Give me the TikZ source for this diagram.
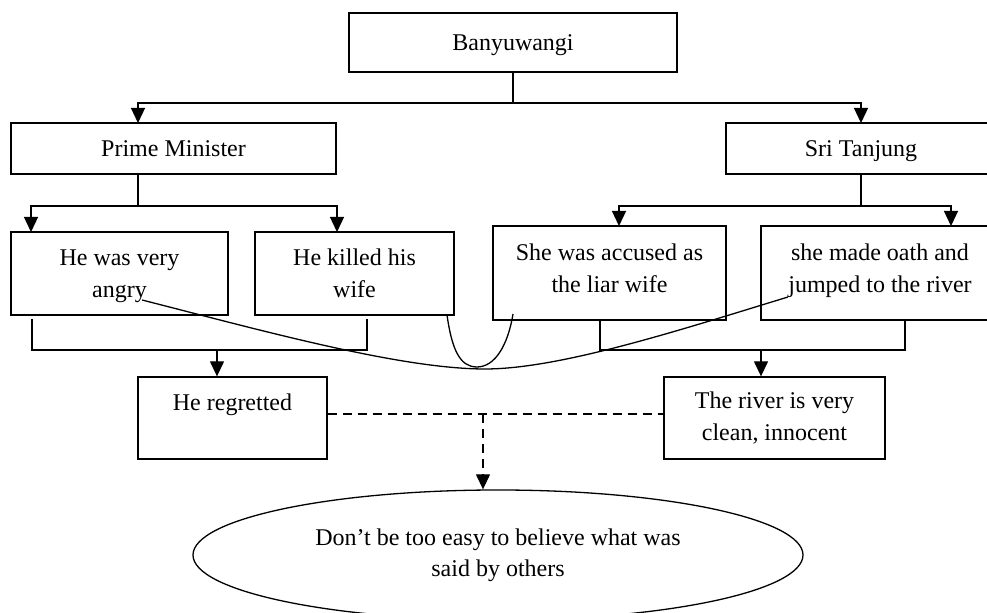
\documentclass[tikz,border=0pt]{standalone}
\usepackage{fontspec}
\setmainfont{Liberation Serif}
\usetikzlibrary{arrows.meta,positioning,shapes.geometric}
\tikzset{
  sbox/.style ={rectangle, draw=black, line width=0.65pt, inner sep=0pt,
                align=center, font=\fontsize{12}{16}\selectfont},
  bsize/.style 2 args={minimum width=#1, minimum height=#2},
  oneline/.style={text height=8pt, text depth=0pt},
  soval/.style={ellipse, draw=black, line width=0.65pt, inner sep=0pt,
                align=center, font=\fontsize{12}{15.5}\selectfont},
  sline/.style={line width=0.65pt, black},
  sarr/.style ={sline, -{Triangle[length=7.5pt, width=7pt]}},
  sdash/.style={sline, dash pattern=on 4.5pt off 3pt},
  sdarr/.style={sdash, -{Triangle[length=7.5pt, width=7pt]}},
  scurve/.style={line width=0.65pt, black},
}

\begin{document}
\begin{tikzpicture}[x=0.5pt, y=-0.5pt]
  \useasboundingbox (0,0) rectangle (987,613);
  % the story boxes
  \node[sbox, oneline, bsize={164pt}{29.5pt}] (banyu) at (513,42.5) {Banyuwangi};
  \node[sbox, oneline, bsize={162.5pt}{25.5pt}] (pm) at (173.5,148.5) {Prime Minister};
  \node[sbox, oneline, bsize={135pt}{25.5pt}] (st) at (861,148.5) {Sri Tanjung};
  \node[sbox, bsize={108.5pt}{41.5pt}, text depth=0pt] (angry) at (119.5,273.5) {He was very\\angry};
  \node[sbox, bsize={99.5pt}{41.5pt}] (killed) at (354.5,273.5) {He killed his\\wife};
  \node[sbox, bsize={116.5pt}{47pt}, text depth=5pt] (accused) at (609.5,273) {She was accused as\\the liar wife};
  \node[sbox, bsize={119pt}{47pt}, text depth=5pt] (oath) at (880,273) {she made oath and\\jumped to the river};
  \node[sbox, bsize={94.5pt}{41pt}, text height=8pt, text depth=15pt] (regret) at (232.5,418) {He regretted};
  \node[sbox, bsize={110.5pt}{41pt}] (river) at (774.5,418) {The river is very\\clean, innocent};
  \node[soval, bsize={305pt}{65pt}] (moral) at (498,555)
    {Don’t be too easy to believe what was\\said by others};

  % joints of the connectors
  \coordinate (banyu-split) at (513,103);
  \coordinate (pm-in) at (138,123);  \coordinate (st-in) at (861,123);
  \coordinate (pm-split) at (138,206); \coordinate (st-split) at (861,206);
  \coordinate (angry-in) at (31,232);   \coordinate (killed-in) at (337,232);
  \coordinate (accused-in) at (619,226); \coordinate (oath-in) at (951,226);
  \coordinate (angry-out) at (32,319);   \coordinate (killed-out) at (367,319);
  \coordinate (accused-out) at (600,320); \coordinate (oath-out) at (905,320);
  \coordinate (left-join) at (217,350);  \coordinate (right-join) at (761,350);
  \coordinate (moral-split) at (483,414);

  \draw[sline] (banyu) -- (banyu-split);
  \draw[sarr] (banyu-split) -| (pm-in);
  \draw[sarr] (banyu-split) -| (st-in);

  \draw[sline] (pm.south -| pm-split) -- (pm-split);
  \draw[sarr] (pm-split) -| (angry-in);
  \draw[sarr] (pm-split) -| (killed-in);
  \draw[sline] (st) -- (st-split);
  \draw[sarr] (st-split) -| (accused-in);
  \draw[sarr] (st-split) -| (oath-in);

  \draw[sline] (angry-out) |- (left-join) -| (killed-out);
  \draw[sarr] (left-join) -- (regret.north -| left-join);
  \draw[sline] (accused-out) |- (right-join) -| (oath-out);
  \draw[sarr] (right-join) -- (river.north -| right-join);

  \draw[sdash] (regret.east |- moral-split) -- (river.west |- moral-split);
  \draw[sdarr] (moral-split) -- (moral.north -| moral-split);

  % the two crossing curves
  \coordinate (c1-start) at (142,300); \coordinate (c1-low) at (485,369);
  \coordinate (c1-end) at (788,297);
  \coordinate (c2-start) at (447,315); \coordinate (c2-low) at (477,367);
  \coordinate (c2-end) at (513,314);
  \draw[scurve] (c1-start) .. controls (260,330) and (400,369) .. (c1-low)
    .. controls (560,369) and (680,330) .. (c1-end);
  \draw[scurve] (c2-start) .. controls (452,350) and (460,367) .. (c2-low)
    .. controls (495,367) and (508,345) .. (c2-end);
\end{tikzpicture}
\end{document}
